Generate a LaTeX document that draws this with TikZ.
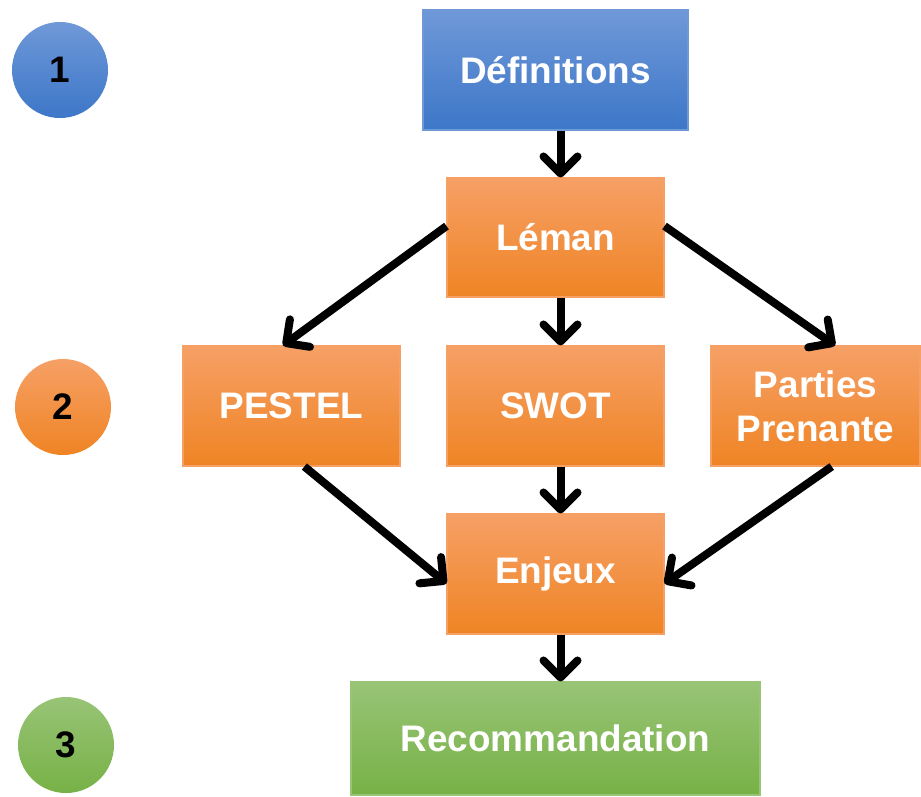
\documentclass[tikz,border=0pt]{standalone}
\usepackage{fontspec}
\setmainfont{Liberation Sans}
\usetikzlibrary{calc,arrows.meta}

\definecolor{bluetop}{HTML}{6F98D8}
\definecolor{bluebot}{HTML}{3D77C8}
\definecolor{orangetop}{HTML}{F6A066}
\definecolor{orangebot}{HTML}{EF8424}
\definecolor{greentop}{HTML}{98C476}
\definecolor{greenbot}{HTML}{77B146}

\tikzset{
  box/.style={rectangle, minimum width=4.34cm, minimum height=2.4cm, inner sep=0pt,
    align=center, text=white, font=\bfseries\fontsize{21}{25}\selectfont},
  bluebox/.style={box, top color=bluetop, bottom color=bluebot, draw=bluetop, line width=0.6pt},
  orangebox/.style={box, top color=orangetop, bottom color=orangebot, draw=orangetop, line width=0.6pt},
  greenbox/.style={box, top color=greentop, bottom color=greenbot, draw=greentop, line width=0.6pt},
  stage/.style={circle, minimum size=1.92cm, inner sep=0pt, font=\bfseries\fontsize{21}{25}\selectfont},
  flow/.style={-{Straight Barb[length=0.34cm, width=0.68cm, round]}, line width=0.16cm, black},
}

\begin{document}
\begin{tikzpicture}
  \useasboundingbox (0,0) rectangle (18.42,-15.92);

  % stages
  \node[stage, top color=bluetop, bottom color=bluebot] (s1) at (1.2,-1.4) {1};
  \node[stage, top color=orangetop, bottom color=orangebot] (s2) at (1.26,-8.14) {2};
  \node[stage, top color=greentop, bottom color=greenbot] (s3) at (1.32,-14.9) {3};

  % boxes
  \node[bluebox, minimum width=5.3cm] (def) at (11.11,-1.4) {Définitions};
  \node[orangebox, minimum height=2.38cm] (leman) at (11.11,-4.75) {Léman};
  \node[orangebox] (pestel) at (5.83,-8.12) {PESTEL};
  \node[orangebox] (swot) at (11.11,-8.12) {SWOT};
  \node[orangebox, minimum width=4.18cm] (parties) at (16.31,-8.12) {Parties\\Prenante};
  \node[orangebox] (enjeux) at (11.11,-11.48) {Enjeux};
  \node[greenbox, minimum width=8.18cm, minimum height=2.26cm] (reco) at (11.11,-14.77) {Recommandation};

  % arrows
  \draw[flow] ([xshift=0.1cm]def.south) -- ([xshift=0.1cm]leman.north);
  \draw[flow] ([xshift=0.1cm]leman.south) -- ([xshift=0.1cm]swot.north);
  \draw[flow] ([xshift=0.1cm]swot.south) -- ([xshift=0.1cm]enjeux.north);
  \draw[flow] ([xshift=0.1cm]enjeux.south) -- ([xshift=0.1cm]reco.north);
  \draw[flow] (leman.174) -- (pestel.98);
  \draw[flow] (leman.6) -- (parties.72);
  \draw[flow] (pestel.-78) -- (enjeux.185);
  \draw[flow] (parties.-75) -- (enjeux.-5);
\end{tikzpicture}
\end{document}
